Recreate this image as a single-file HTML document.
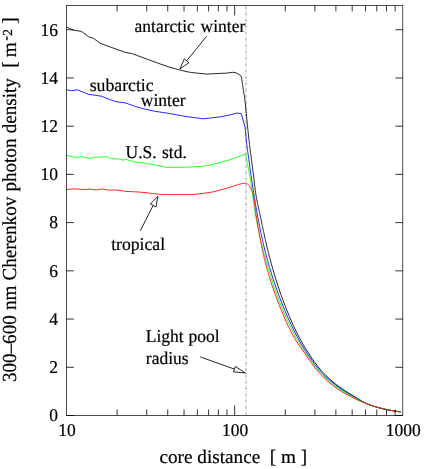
<!DOCTYPE html>
<html><head><meta charset="utf-8"><title>chart</title>
<style>
html,body{margin:0;padding:0;background:#fff;}
body{width:424px;height:469px;overflow:hidden;}
svg{display:block;will-change:transform;}
text{font-family:"Liberation Serif",serif;font-size:17.5px;fill:#000;text-rendering:geometricPrecision;stroke:#000;stroke-width:0.2px;white-space:pre;}
</style></head><body>
<svg width="424" height="469" viewBox="0 0 424 469">
<rect width="424" height="469" fill="#fff"/>

<line x1="246" y1="415.4" x2="246" y2="5.5" stroke="#9a9a9a" stroke-width="1" stroke-dasharray="2.9 1.45 0.6 1.4"/>
<polyline points="66.50,27.00 73.40,30.20 81.60,31.40 88.60,36.70 93.60,38.40 99.20,42.60 102.80,44.30 126.00,52.60 131.70,53.50 160.00,63.90 170.00,67.30 179.60,69.90 186.00,71.50 191.20,72.50 206.80,74.10 221.30,73.30 226.00,73.20 232.60,72.30 236.40,72.90 239.20,74.60 241.30,76.30 241.55,77.92 241.80,79.55 242.05,81.18 242.30,82.81 242.55,84.45 242.80,86.09 243.05,87.73 243.30,89.33 243.55,90.88 243.80,92.43 244.05,94.01 244.30,95.64 244.55,97.37 244.80,99.22 245.05,101.24 245.30,103.49 245.55,105.93 245.80,108.50 246.05,111.14 246.30,113.81 246.55,116.45 246.80,119.01 247.05,121.47 247.30,123.92 247.55,126.38 247.80,128.82 248.05,131.24 248.30,133.62 248.55,135.96 248.80,138.23 249.05,140.43 249.30,142.57 249.55,144.66 249.80,146.71 250.05,148.72 250.30,150.70 250.55,152.66 250.80,154.60 251.05,156.53 251.30,158.45 251.55,160.39 251.80,162.28 252.05,164.12 252.30,165.93 252.55,167.73 252.80,169.54 253.05,171.37 253.30,173.24 253.55,175.17 253.80,177.17 254.05,179.32 254.30,181.72 254.55,184.23 254.80,186.67 255.05,188.87 255.30,190.69 255.55,192.36 255.80,193.95 256.05,195.47 256.30,196.93 256.55,198.33 256.80,199.67 257.05,200.97 257.30,202.22 257.55,203.44 257.80,204.62 258.05,205.78 258.30,206.92 258.55,208.05 258.80,209.16 259.05,210.28 259.30,211.39 259.55,212.52 259.80,213.66 260.05,214.82 260.30,216.00 260.55,217.20 260.80,218.40 261.05,219.59 261.30,220.79 261.55,221.98 261.80,223.18 262.05,224.37 262.30,225.56 262.55,226.74 262.80,227.92 263.05,229.10 263.30,230.27 263.55,231.44 263.80,232.61 264.05,233.77 264.30,234.92 264.55,236.07 264.80,237.21 265.05,238.34 265.30,239.47 265.55,240.59 265.80,241.70 266.05,242.80 266.30,243.90 266.55,244.98 266.80,246.06 267.05,247.12 267.30,248.18 267.55,249.22 267.80,250.25 268.05,251.27 268.30,252.28 268.55,253.28 268.80,254.26 269.05,255.23 269.30,256.19 269.55,257.14 269.80,258.08 270.00,258.83 271.00,262.53 272.00,266.14 273.00,269.67 274.00,273.10 275.00,276.45 276.00,279.71 277.00,282.88 278.00,285.97 279.00,288.98 280.00,291.91 281.00,294.75 282.00,297.51 283.00,300.23 284.00,302.89 285.00,305.51 286.00,308.08 287.00,310.60 288.00,313.07 289.00,315.50 290.00,317.87 291.00,320.20 292.00,322.48 293.00,324.71 294.00,326.89 295.00,329.02 296.00,331.10 297.00,333.14 298.00,335.12 299.00,337.06 300.00,338.93 301.00,340.76 302.00,342.53 303.00,344.25 304.00,345.94 305.00,347.58 306.00,349.19 307.00,350.77 308.00,352.32 309.00,353.84 310.00,355.35 311.00,356.84 312.00,358.32 313.00,359.79 314.00,361.22 315.00,362.63 316.00,364.01 317.00,365.34 318.00,366.64 319.00,367.89 320.00,369.08 321.00,370.22 322.00,371.33 323.00,372.41 324.00,373.47 325.00,374.50 326.00,375.51 327.00,376.49 328.00,377.46 329.00,378.40 330.00,379.32 331.00,380.22 332.00,381.09 333.00,381.95 334.00,382.79 335.00,383.60 336.00,384.40 337.00,385.18 338.00,385.94 339.00,386.68 340.00,387.40 341.00,388.10 342.00,388.79 343.00,389.47 344.00,390.13 345.00,390.79 346.00,391.43 347.00,392.06 348.00,392.68 349.00,393.30 350.00,393.91 351.00,394.51 352.00,395.11 353.00,395.71 354.00,396.31 355.00,396.90 356.00,397.50 357.00,398.10 358.00,398.70 359.00,399.31 360.00,399.93 361.00,400.55 362.00,401.16 363.00,401.75 364.00,402.31 365.00,402.82 366.00,403.29 367.00,403.72 368.00,404.14 369.00,404.54 370.00,404.93 371.00,405.30 372.00,405.65 373.00,406.00 374.00,406.32 375.00,406.64 376.00,406.94 377.00,407.23 378.00,407.51 379.00,407.78 380.00,408.04 381.00,408.29 382.00,408.53 383.00,408.77 384.00,409.00 385.00,409.21 386.00,409.43 387.00,409.63 388.00,409.83 389.00,410.02 390.00,410.21 391.00,410.40 392.00,410.58 393.00,410.75 394.00,410.92 395.00,411.09 396.00,411.24 397.00,411.40 398.00,411.55 399.00,411.69 400.00,411.82 400.60,411.90" fill="none" stroke="#000" stroke-width="0.84" stroke-linejoin="round"/>
<polyline points="66.50,89.80 71.70,90.70 77.30,89.80 88.60,94.30 101.40,96.20 114.80,101.40 126.00,103.10 134.50,106.20 144.40,109.00 154.30,111.20 168.40,113.30 186.00,116.50 203.00,118.80 220.00,116.90 230.00,114.90 237.10,113.00 241.30,113.70 245.10,127.40 245.35,130.22 245.60,132.98 245.85,135.62 246.10,138.13 246.35,140.45 246.60,142.63 246.85,144.72 247.10,146.72 247.35,148.65 247.60,150.52 247.85,152.36 248.10,154.18 248.35,155.98 248.60,157.79 248.85,159.63 249.10,161.49 249.35,163.34 249.60,165.20 249.85,167.04 250.10,168.87 250.35,170.68 250.60,172.47 250.85,174.23 251.10,175.96 251.35,177.66 251.60,179.34 251.85,181.00 252.10,182.66 252.35,184.31 252.60,185.96 252.85,187.59 253.10,189.22 253.35,190.83 253.60,192.43 253.85,194.02 254.10,195.60 254.35,197.17 254.60,198.72 254.85,200.25 255.10,201.78 255.35,203.28 255.60,204.77 255.85,206.24 256.10,207.69 256.35,209.13 256.60,210.54 256.85,211.94 257.10,213.32 257.35,214.67 257.60,216.00 257.85,217.32 258.10,218.62 258.35,219.92 258.60,221.21 258.85,222.49 259.10,223.76 259.35,225.02 259.60,226.27 259.85,227.51 260.10,228.74 260.35,229.97 260.60,231.18 260.85,232.38 261.10,233.57 261.35,234.75 261.60,235.92 261.85,237.08 262.10,238.23 262.35,239.37 262.60,240.50 262.85,241.61 263.10,242.72 263.35,243.81 263.60,244.89 263.85,245.96 264.10,247.02 264.35,248.07 264.60,249.10 264.85,250.13 265.10,251.14 265.35,252.13 265.60,253.12 265.85,254.09 266.10,255.05 266.35,256.00 266.60,256.94 266.85,257.87 267.10,258.79 267.35,259.71 267.60,260.61 267.85,261.51 268.10,262.41 268.35,263.30 268.60,264.18 268.85,265.05 269.10,265.92 269.35,266.78 269.60,267.63 269.85,268.48 270.00,268.98 271.00,272.29 272.00,275.51 273.00,278.63 274.00,281.67 275.00,284.62 276.00,287.50 277.00,290.31 278.00,293.05 279.00,295.74 280.00,298.36 281.00,300.94 282.00,303.48 283.00,305.97 284.00,308.41 285.00,310.81 286.00,313.16 287.00,315.47 288.00,317.74 289.00,319.96 290.00,322.14 291.00,324.28 292.00,326.38 293.00,328.44 294.00,330.46 295.00,332.44 296.00,334.38 297.00,336.28 298.00,338.14 299.00,339.95 300.00,341.72 301.00,343.44 302.00,345.13 303.00,346.78 304.00,348.39 305.00,349.97 306.00,351.53 307.00,353.05 308.00,354.56 309.00,356.04 310.00,357.51 311.00,358.97 312.00,360.41 313.00,361.83 314.00,363.21 315.00,364.56 316.00,365.88 317.00,367.14 318.00,368.36 319.00,369.53 320.00,370.64 321.00,371.72 322.00,372.77 323.00,373.80 324.00,374.80 325.00,375.79 326.00,376.75 327.00,377.69 328.00,378.60 329.00,379.50 330.00,380.37 331.00,381.23 332.00,382.07 333.00,382.88 334.00,383.68 335.00,384.46 336.00,385.22 337.00,385.97 338.00,386.70 339.00,387.41 340.00,388.10 341.00,388.79 342.00,389.45 343.00,390.10 344.00,390.75 345.00,391.38 346.00,392.00 347.00,392.61 348.00,393.21 349.00,393.80 350.00,394.39 351.00,394.98 352.00,395.56 353.00,396.13 354.00,396.71 355.00,397.28 356.00,397.85 357.00,398.43 358.00,399.00 359.00,399.58 360.00,400.17 361.00,400.75 362.00,401.32 363.00,401.87 364.00,402.40 365.00,402.89 366.00,403.34 367.00,403.76 368.00,404.17 369.00,404.56 370.00,404.94 371.00,405.31 372.00,405.66 373.00,406.00 374.00,406.33 375.00,406.64 376.00,406.94 377.00,407.23 378.00,407.51 379.00,407.78 380.00,408.04 381.00,408.29 382.00,408.53 383.00,408.77 384.00,408.99 385.00,409.21 386.00,409.43 387.00,409.63 388.00,409.83 389.00,410.02 390.00,410.21 391.00,410.40 392.00,410.58 393.00,410.75 394.00,410.92 395.00,411.09 396.00,411.24 397.00,411.40 398.00,411.55 399.00,411.69 400.00,411.82 400.60,411.90" fill="none" stroke="#0000ff" stroke-width="0.84" stroke-linejoin="round"/>
<polyline points="66.50,155.30 76.60,157.70 80.90,156.50 89.30,158.40 94.30,157.30 107.00,156.70 111.30,158.80 117.60,158.80 123.30,160.10 126.00,159.40 134.50,161.90 144.40,163.10 154.30,164.80 165.60,167.30 176.00,167.40 186.00,167.20 200.10,166.50 210.00,165.10 221.40,162.30 232.70,158.90 245.60,154.00 245.85,155.41 246.10,156.81 246.35,158.19 246.60,159.56 246.85,160.90 247.10,162.22 247.35,163.50 247.60,164.75 247.85,165.96 248.10,167.16 248.35,168.34 248.60,169.53 248.85,170.72 249.10,171.94 249.35,173.18 249.60,174.45 249.85,175.77 250.10,177.15 250.35,178.59 250.60,180.11 250.85,181.71 251.10,183.39 251.35,185.13 251.60,186.93 251.85,188.77 252.10,190.64 252.35,192.55 252.60,194.47 252.85,196.40 253.10,198.33 253.35,200.26 253.60,202.16 253.85,204.04 254.10,205.89 254.35,207.69 254.60,209.44 254.85,211.12 255.10,212.74 255.35,214.28 255.60,215.72 255.85,217.10 256.10,218.45 256.35,219.78 256.60,221.09 256.85,222.38 257.10,223.66 257.35,224.91 257.60,226.15 257.85,227.36 258.10,228.57 258.35,229.75 258.60,230.92 258.85,232.07 259.10,233.21 259.35,234.33 259.60,235.44 259.85,236.54 260.10,237.62 260.35,238.69 260.60,239.75 260.85,240.79 261.10,241.83 261.35,242.85 261.60,243.87 261.85,244.87 262.10,245.87 262.35,246.85 262.60,247.83 262.85,248.81 263.10,249.77 263.35,250.73 263.60,251.68 263.85,252.63 264.10,253.57 264.35,254.51 264.60,255.44 264.85,256.37 265.10,257.30 265.35,258.22 265.60,259.13 265.85,260.04 266.10,260.94 266.35,261.84 266.60,262.73 266.85,263.61 267.10,264.49 267.35,265.37 267.60,266.24 267.85,267.10 268.10,267.96 268.35,268.81 268.60,269.66 268.85,270.50 269.10,271.34 269.35,272.17 269.60,272.99 269.85,273.81 270.00,274.30 271.00,277.52 272.00,280.65 273.00,283.70 274.00,286.66 275.00,289.54 276.00,292.35 277.00,295.07 278.00,297.71 279.00,300.31 280.00,302.87 281.00,305.37 282.00,307.83 283.00,310.24 284.00,312.61 285.00,314.93 286.00,317.20 287.00,319.43 288.00,321.61 289.00,323.75 290.00,325.84 291.00,327.89 292.00,329.89 293.00,331.85 294.00,333.76 295.00,335.63 296.00,337.45 297.00,339.21 298.00,340.92 299.00,342.59 300.00,344.21 301.00,345.79 302.00,347.34 303.00,348.86 304.00,350.36 305.00,351.85 306.00,353.32 307.00,354.78 308.00,356.24 309.00,357.70 310.00,359.17 311.00,360.62 312.00,362.06 313.00,363.48 314.00,364.86 315.00,366.21 316.00,367.51 317.00,368.75 318.00,369.93 319.00,371.04 320.00,372.12 321.00,373.17 322.00,374.20 323.00,375.21 324.00,376.19 325.00,377.15 326.00,378.09 327.00,379.00 328.00,379.90 329.00,380.77 330.00,381.63 331.00,382.46 332.00,383.27 333.00,384.07 334.00,384.84 335.00,385.60 336.00,386.34 337.00,387.06 338.00,387.76 339.00,388.45 340.00,389.12 341.00,389.78 342.00,390.43 343.00,391.06 344.00,391.68 345.00,392.29 346.00,392.89 347.00,393.47 348.00,394.05 349.00,394.62 350.00,395.19 351.00,395.74 352.00,396.29 353.00,396.83 354.00,397.37 355.00,397.91 356.00,398.44 357.00,398.97 358.00,399.50 359.00,400.03 360.00,400.55 361.00,401.06 362.00,401.56 363.00,402.05 364.00,402.52 365.00,402.96 366.00,403.38 367.00,403.79 368.00,404.18 369.00,404.56 370.00,404.94 371.00,405.30 372.00,405.65 373.00,405.99 374.00,406.32 375.00,406.64 376.00,406.94 377.00,407.23 378.00,407.51 379.00,407.78 380.00,408.04 381.00,408.29 382.00,408.53 383.00,408.76 384.00,408.99 385.00,409.21 386.00,409.42 387.00,409.63 388.00,409.83 389.00,410.02 390.00,410.21 391.00,410.40 392.00,410.58 393.00,410.75 394.00,410.92 395.00,411.09 396.00,411.24 397.00,411.40 398.00,411.55 399.00,411.69 400.00,411.82 400.60,411.90" fill="none" stroke="#00ff00" stroke-width="0.84" stroke-linejoin="round"/>
<polyline points="66.50,189.50 74.50,188.80 83.00,189.50 90.00,189.10 96.40,189.90 102.10,188.90 108.40,190.20 115.50,189.90 126.00,191.40 140.10,192.10 154.30,193.70 161.40,194.50 172.70,194.60 186.00,194.60 190.20,194.70 200.10,193.80 214.30,191.70 228.40,187.70 239.70,184.10 245.00,183.20 245.25,183.23 245.50,183.28 245.75,183.34 246.00,183.41 246.25,183.50 246.50,183.59 246.75,183.69 247.00,183.80 247.25,183.92 247.50,184.05 247.75,184.21 248.00,184.39 248.25,184.59 248.50,184.81 248.75,185.05 249.00,185.34 249.25,185.68 249.50,186.07 249.75,186.50 250.00,186.96 250.25,187.45 250.50,187.96 250.75,188.47 251.00,188.99 251.25,189.51 251.50,190.02 251.75,190.55 252.00,191.10 252.25,191.70 252.50,192.35 252.75,193.08 253.00,193.90 253.25,194.90 253.50,196.13 253.75,197.56 254.00,199.16 254.25,200.90 254.50,202.74 254.75,204.65 255.00,206.59 255.25,208.54 255.50,210.46 255.75,212.31 256.00,214.07 256.25,215.69 256.50,217.21 256.75,218.73 257.00,220.24 257.25,221.74 257.50,223.24 257.75,224.74 258.00,226.22 258.25,227.70 258.50,229.17 258.75,230.63 259.00,232.08 259.25,233.51 259.50,234.94 259.75,236.35 260.00,237.74 260.25,239.12 260.50,240.48 260.75,241.82 261.00,243.15 261.25,244.45 261.50,245.74 261.75,247.00 262.00,248.24 262.25,249.46 262.50,250.65 262.75,251.82 263.00,252.96 263.25,254.07 263.50,255.15 263.75,256.21 264.00,257.25 264.25,258.27 264.50,259.29 264.75,260.29 265.00,261.28 265.25,262.26 265.50,263.23 265.75,264.19 266.00,265.13 266.25,266.07 266.50,267.00 266.75,267.91 267.00,268.82 267.25,269.72 267.50,270.61 267.75,271.49 268.00,272.36 268.25,273.22 268.50,274.07 268.75,274.91 269.00,275.75 269.25,276.58 269.50,277.39 269.75,278.21 270.00,279.01 271.00,282.16 272.00,285.20 273.00,288.14 274.00,291.01 275.00,293.80 276.00,296.54 277.00,299.23 278.00,301.88 279.00,304.47 280.00,307.01 281.00,309.50 282.00,311.94 283.00,314.33 284.00,316.67 285.00,318.96 286.00,321.19 287.00,323.37 288.00,325.49 289.00,327.56 290.00,329.57 291.00,331.53 292.00,333.43 293.00,335.28 294.00,337.06 295.00,338.78 296.00,340.43 297.00,342.02 298.00,343.57 299.00,345.07 300.00,346.54 301.00,347.98 302.00,349.40 303.00,350.81 304.00,352.21 305.00,353.61 306.00,355.02 307.00,356.44 308.00,357.89 309.00,359.35 310.00,360.82 311.00,362.28 312.00,363.72 313.00,365.14 314.00,366.52 315.00,367.85 316.00,369.12 317.00,370.32 318.00,371.44 319.00,372.53 320.00,373.60 321.00,374.65 322.00,375.68 323.00,376.69 324.00,377.67 325.00,378.63 326.00,379.57 327.00,380.49 328.00,381.39 329.00,382.26 330.00,383.12 331.00,383.95 332.00,384.76 333.00,385.54 334.00,386.31 335.00,387.05 336.00,387.77 337.00,388.47 338.00,389.15 339.00,389.81 340.00,390.46 341.00,391.09 342.00,391.71 343.00,392.31 344.00,392.91 345.00,393.48 346.00,394.05 347.00,394.61 348.00,395.15 349.00,395.68 350.00,396.21 351.00,396.72 352.00,397.22 353.00,397.72 354.00,398.21 355.00,398.69 356.00,399.17 357.00,399.64 358.00,400.10 359.00,400.55 360.00,400.99 361.00,401.41 362.00,401.82 363.00,402.22 364.00,402.61 365.00,403.00 366.00,403.38 367.00,403.75 368.00,404.13 369.00,404.51 370.00,404.88 371.00,405.25 372.00,405.61 373.00,405.96 374.00,406.30 375.00,406.62 376.00,406.94 377.00,407.23 378.00,407.51 379.00,407.78 380.00,408.04 381.00,408.29 382.00,408.53 383.00,408.76 384.00,408.99 385.00,409.21 386.00,409.42 387.00,409.63 388.00,409.83 389.00,410.02 390.00,410.21 391.00,410.40 392.00,410.58 393.00,410.75 394.00,410.92 395.00,411.09 396.00,411.24 397.00,411.40 398.00,411.55 399.00,411.69 400.00,411.82 400.60,411.90" fill="none" stroke="#ff0000" stroke-width="0.84" stroke-linejoin="round"/>
<rect x="66.5" y="5.5" width="336.3" height="409.9" fill="none" stroke="#000" stroke-width="0.7"/>
<path d="M117.12 415.4v-5.9M117.12 5.5v5.9 M146.73 415.4v-5.9M146.73 5.5v5.9 M167.74 415.4v-5.9M167.74 5.5v5.9 M184.03 415.4v-5.9M184.03 5.5v5.9 M197.35 415.4v-5.9M197.35 5.5v5.9 M208.60 415.4v-5.9M208.60 5.5v5.9 M218.35 415.4v-5.9M218.35 5.5v5.9 M226.96 415.4v-5.9M226.96 5.5v5.9 M234.65 415.4v-10.0M234.65 5.5v10.0 M285.27 415.4v-5.9M285.27 5.5v5.9 M314.88 415.4v-5.9M314.88 5.5v5.9 M335.89 415.4v-5.9M335.89 5.5v5.9 M352.18 415.4v-5.9M352.18 5.5v5.9 M365.50 415.4v-5.9M365.50 5.5v5.9 M376.75 415.4v-5.9M376.75 5.5v5.9 M386.50 415.4v-5.9M386.50 5.5v5.9 M395.11 415.4v-5.9M395.11 5.5v5.9 M66.5 415.50h7.4M402.8 415.50h-7.4 M66.5 367.28h7.4M402.8 367.28h-7.4 M66.5 319.06h7.4M402.8 319.06h-7.4 M66.5 270.84h7.4M402.8 270.84h-7.4 M66.5 222.62h7.4M402.8 222.62h-7.4 M66.5 174.40h7.4M402.8 174.40h-7.4 M66.5 126.18h7.4M402.8 126.18h-7.4 M66.5 77.96h7.4M402.8 77.96h-7.4 M66.5 29.74h7.4M402.8 29.74h-7.4" stroke="#000" stroke-width="0.8" fill="none"/>
<text transform="translate(58.0,421.3) scale(1.0,1.03)" text-anchor="end" style="font-size:17.5px;word-spacing:0px" xml:space="preserve">0</text>
<text transform="translate(58.0,373.1) scale(1.0,1.03)" text-anchor="end" style="font-size:17.5px;word-spacing:0px" xml:space="preserve">2</text>
<text transform="translate(58.0,324.9) scale(1.0,1.03)" text-anchor="end" style="font-size:17.5px;word-spacing:0px" xml:space="preserve">4</text>
<text transform="translate(58.0,276.6) scale(1.0,1.03)" text-anchor="end" style="font-size:17.5px;word-spacing:0px" xml:space="preserve">6</text>
<text transform="translate(58.0,228.4) scale(1.0,1.03)" text-anchor="end" style="font-size:17.5px;word-spacing:0px" xml:space="preserve">8</text>
<text transform="translate(58.0,180.2) scale(1.0,1.03)" text-anchor="end" style="font-size:17.5px;word-spacing:0px" xml:space="preserve">10</text>
<text transform="translate(58.0,132.0) scale(1.0,1.03)" text-anchor="end" style="font-size:17.5px;word-spacing:0px" xml:space="preserve">12</text>
<text transform="translate(58.0,83.8) scale(1.0,1.03)" text-anchor="end" style="font-size:17.5px;word-spacing:0px" xml:space="preserve">14</text>
<text transform="translate(58.0,35.5) scale(1.0,1.03)" text-anchor="end" style="font-size:17.5px;word-spacing:0px" xml:space="preserve">16</text>
<text transform="translate(67.1,435.5) scale(1.0,1.03)" text-anchor="middle" style="font-size:17.5px;word-spacing:0px" xml:space="preserve">10</text>
<text transform="translate(235.0,435.5) scale(1.0,1.03)" text-anchor="middle" style="font-size:17.5px;word-spacing:0px" xml:space="preserve">100</text>
<text transform="translate(403.2,435.5) scale(1.0,1.03)" text-anchor="middle" style="font-size:17.5px;word-spacing:0px" xml:space="preserve">1000</text>
<text transform="translate(134.6,31.6) scale(1.0,1.03)" text-anchor="start" style="font-size:17.5px;word-spacing:1.4px" xml:space="preserve">antarctic winter</text>
<text transform="translate(89.7,91.0) scale(1.012,1.03)" text-anchor="start" style="font-size:17.5px;word-spacing:0px" xml:space="preserve">subarctic</text>
<text transform="translate(140.8,106.0) scale(1.0,1.03)" text-anchor="start" style="font-size:17.5px;word-spacing:0px" xml:space="preserve">winter</text>
<text transform="translate(125.5,157.6) scale(1.0,1.03)" text-anchor="start" style="font-size:17.5px;word-spacing:1.0px" xml:space="preserve">U.S. std.</text>
<text transform="translate(111.2,249.8) scale(1.008,1.03)" text-anchor="start" style="font-size:17.5px;word-spacing:0px" xml:space="preserve">tropical</text>
<text transform="translate(145.8,342.1) scale(1.0,1.03)" text-anchor="start" style="font-size:17.5px;word-spacing:0.5px" xml:space="preserve">Light pool</text>
<text transform="translate(145.8,364.2) scale(1.0,1.03)" text-anchor="start" style="font-size:17.5px;word-spacing:0px" xml:space="preserve">radius</text>
<text transform="translate(159.5,462.8) scale(1.0,0.99)" text-anchor="start" style="font-size:19.2px;word-spacing:0px" xml:space="preserve">core distance  [ m ]</text>
<text transform="translate(16.2,382.1) rotate(-90) scale(1,1.04)" style="font-size:19.1px;word-spacing:0.4px" xml:space="preserve">300–600 nm Cherenkov photon density  [ <tspan dx="-0.8">m</tspan><tspan x="341.5" dy="-5.6" style="font-size:12.5px;stroke:#000;stroke-width:0.35px">-</tspan><tspan x="346.3" dy="1.8" style="font-size:13.2px">2</tspan><tspan x="358.3" dy="3.8">]</tspan></text>
<line x1="206.5" y1="36.4" x2="186.6" y2="60.8" stroke="#000" stroke-width="0.85"/><polygon points="179.9,69.0 184.3,58.9 188.9,62.7" fill="#fff" stroke="#000" stroke-width="0.85" stroke-linejoin="miter"/>
<line x1="140.3" y1="230.8" x2="153.1" y2="205.5" stroke="#000" stroke-width="0.85"/><polygon points="157.8,196.3 156.0,206.9 150.3,204.0" fill="#fff" stroke="#000" stroke-width="0.85" stroke-linejoin="miter"/>
<line x1="200.2" y1="356.9" x2="234.5" y2="369.1" stroke="#000" stroke-width="0.85"/><polygon points="245.4,373.0 233.5,371.8 235.4,366.4" fill="#fff" stroke="#000" stroke-width="0.85" stroke-linejoin="miter"/>
</svg></body></html>
